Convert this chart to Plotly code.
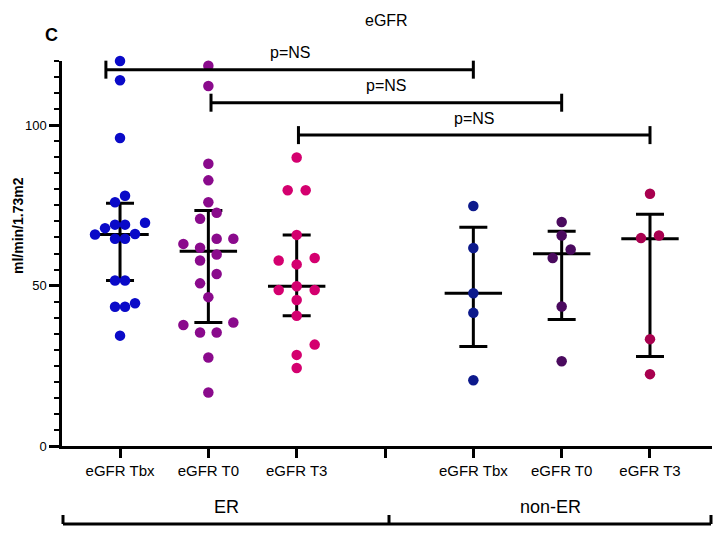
import plotly.graph_objects as go

# ---------------- data ----------------
categories = ["eGFR Tbx", "eGFR T0", "eGFR T3", "", "eGFR Tbx", "eGFR T0", "eGFR T3"]
group_pos = [0, 1, 2, 4, 5, 6]
colors = ["#0a0ac8", "#8a0a8c", "#d4006f", "#0d1a8c", "#4a0a5e", "#a8004f"]

er_tbx = [120, 114, 96, 78, 76, 69.6, 69, 69, 67.9, 66.1, 65.9, 64.6, 64.6, 51.6, 51.6, 44.5, 43.4, 43.4, 34.4]
er_t0 = [118.5, 112.2, 88, 82.8, 76, 72.7, 70.8, 64.6, 64.6, 63, 61.8, 59.7, 57.8, 53.6, 50.7, 46.4, 38.5, 37.7, 35.4, 35.4, 27.6, 16.7]
er_t3 = [89.9, 79.7, 79.7, 65.8, 58.6, 57.8, 56.6, 49.8, 48.6, 48.6, 45.5, 40.6, 31.6, 28.4, 24.3]
ner_tbx = [74.8, 61.7, 47.6, 41.5, 20.5]
ner_t0 = [69.8, 65.6, 61.25, 58.6, 43.5, 26.4]
ner_t3 = [78.6, 65.6, 64.8, 33.3, 22.4]
series = [er_tbx, er_t0, er_t3, ner_tbx, ner_t0, ner_t3]

medians = [65.9, 60.7, 49.8, 47.6, 59.9, 64.6]
q3 = [75.7, 73.4, 65.8, 68.2, 66.9, 72.2]
q1 = [51.6, 38.5, 40.6, 31.0, 39.4, 27.9]

# horizontal scatter offsets of the dots (pixels), layout only
offsets_px = [
    [0, 0, 0, 5, -5, 25, -5, 5, -15, 15, -25, -5, 5, -5, 5, 15, -5, 5, 0],
    [0, 0, 0, 0, 0, 8.3, -8.3, 8.3, 25, -25, -8.3, 8.3, -8.3, 8.3, -8.3, 0, 25, -25, -8.3, 8.3, 0, 0],
    [0, -9, 9, 0, 18, -18, 0, 0, -18, 18, 0, 0, 18, 0, 0],
    [0, 0, 0, 0, 0],
    [0, 0, 9, -9, 0, 0],
    [0, 9, -9, 0, 0],
]

# comparison brackets: (left x, right x, y level)
brackets = [(-0.16, 4.0, 117.3), (1.03, 5.0, 107.0), (2.02, 6.0, 96.9)]
bracket_labels = ["p=NS", "p=NS", "p=NS"]
group_labels = ["ER", "non-ER"]

# ---------------- layout geometry ----------------
W, H = 717, 533
ML, MR, MT, MB = 62, 5, 61, 87
XR = [-0.657, 6.702]
YR = [0, 120]
plot_w = W - ML - MR
plot_h = H - MT - MB
px_per_x = plot_w / (XR[1] - XR[0])
px_per_y = plot_h / (YR[1] - YR[0])


def px2paper_x(px):
    return (px - ML) / plot_w


def px2paper_y(py):
    return (H - MB - py) / plot_h


def x2paper(x):
    return (x - XR[0]) / (XR[1] - XR[0])


def y2paper(y):
    return (y - YR[0]) / (YR[1] - YR[0])


FONT = "Liberation Sans, Arial, sans-serif"

fig = go.Figure()

# median + IQR bars
fig.add_trace(go.Scatter(
    x=group_pos, y=medians, mode="markers", cliponaxis=False, showlegend=False,
    marker=dict(symbol="line-ew", size=41, color="black", line=dict(width=3, color="black")),
    error_y=dict(type="data", symmetric=False,
                 array=[a - m for a, m in zip(q3, medians)],
                 arrayminus=[m - b for m, b in zip(medians, q1)],
                 width=14, thickness=3, color="black"),
))

# dots
for pos, vals, offs, col in zip(group_pos, series, offsets_px, colors):
    fig.add_trace(go.Scatter(
        x=[pos + o / px_per_x for o in offs], y=vals, mode="markers",
        cliponaxis=False, showlegend=False,
        marker=dict(size=10.5, color=col, line=dict(width=0)),
    ))

shapes = []
annotations = []
cap = 9 / plot_h  # cap half-height in paper units
for (xl, xr, yv), lab in zip(brackets, bracket_labels):
    xl_p, xr_p, y_p = x2paper(xl), x2paper(xr), y2paper(yv)
    shapes.append(dict(type="line", xref="paper", yref="paper", x0=xl_p, x1=xr_p, y0=y_p, y1=y_p,
                       line=dict(color="black", width=3)))
    for xx in (xl_p, xr_p):
        shapes.append(dict(type="line", xref="paper", yref="paper", x0=xx, x1=xx, y0=y_p - cap, y1=y_p + cap,
                           line=dict(color="black", width=3)))
    annotations.append(dict(text=lab, xref="paper", yref="paper", x=(xl_p + xr_p) / 2, y=y_p + 17 / plot_h,
                            showarrow=False, font=dict(family=FONT, size=16, color="black"),
                            xanchor="center", yanchor="middle"))

# group bracket under the axis
yb = px2paper_y(524)
yt = px2paper_y(515)
xs = [px2paper_x(63), px2paper_x(389), px2paper_x(711)]
shapes.append(dict(type="line", xref="paper", yref="paper", x0=xs[0], x1=xs[2], y0=yb, y1=yb,
                   line=dict(color="black", width=3)))
for xx in xs:
    shapes.append(dict(type="line", xref="paper", yref="paper", x0=xx, x1=xx, y0=yb, y1=yt,
                       line=dict(color="black", width=3)))
for lab, (a, b) in zip(group_labels, [(xs[0], xs[1]), (xs[1], xs[2])]):
    annotations.append(dict(text=lab, xref="paper", yref="paper", x=(a + b) / 2, y=px2paper_y(507),
                            showarrow=False, font=dict(family=FONT, size=18, color="black"),
                            xanchor="center", yanchor="middle"))

# title, panel letter, y title
annotations.append(dict(text="eGFR", xref="paper", yref="paper", x=px2paper_x(386), y=px2paper_y(21),
                        showarrow=False, font=dict(family=FONT, size=16, color="black"),
                        xanchor="center", yanchor="middle"))
annotations.append(dict(text="<b>C</b>", xref="paper", yref="paper", x=px2paper_x(51), y=px2paper_y(35),
                        showarrow=False, font=dict(family=FONT, size=18, color="black"),
                        xanchor="center", yanchor="middle"))
annotations.append(dict(text="<b>ml/min/1.73m2</b>", xref="paper", yref="paper", x=px2paper_x(18),
                        y=px2paper_y(226), textangle=-90, showarrow=False,
                        font=dict(family=FONT, size=14, color="black"),
                        xanchor="center", yanchor="middle"))

fig.update_layout(
    width=W, height=H, autosize=False,
    margin=dict(l=ML, r=MR, t=MT, b=MB, pad=0),
    paper_bgcolor="white", plot_bgcolor="white",
    shapes=shapes, annotations=annotations,
    font=dict(family=FONT, color="black"),
    xaxis=dict(range=XR, tickvals=list(range(len(categories))), ticktext=categories,
               showgrid=False, zeroline=False, showline=True, linewidth=3, linecolor="black",
               ticks="outside", ticklen=9, tickwidth=2.5, tickcolor="black",
               tickfont=dict(family=FONT, size=15, color="black"), fixedrange=True),
    yaxis=dict(range=YR, tickvals=[0, 50, 100], showgrid=False, zeroline=False,
               showline=True, linewidth=2.5, linecolor="black",
               ticks="outside", ticklen=10, tickwidth=2.5, tickcolor="black",
               tickfont=dict(family=FONT, size=13, color="black"),
               minor=dict(dtick=5, tick0=0, ticks="outside", ticklen=5, tickwidth=2, tickcolor="black",
                          showgrid=False),
               fixedrange=True),
)

fig.write_html("out.html")
